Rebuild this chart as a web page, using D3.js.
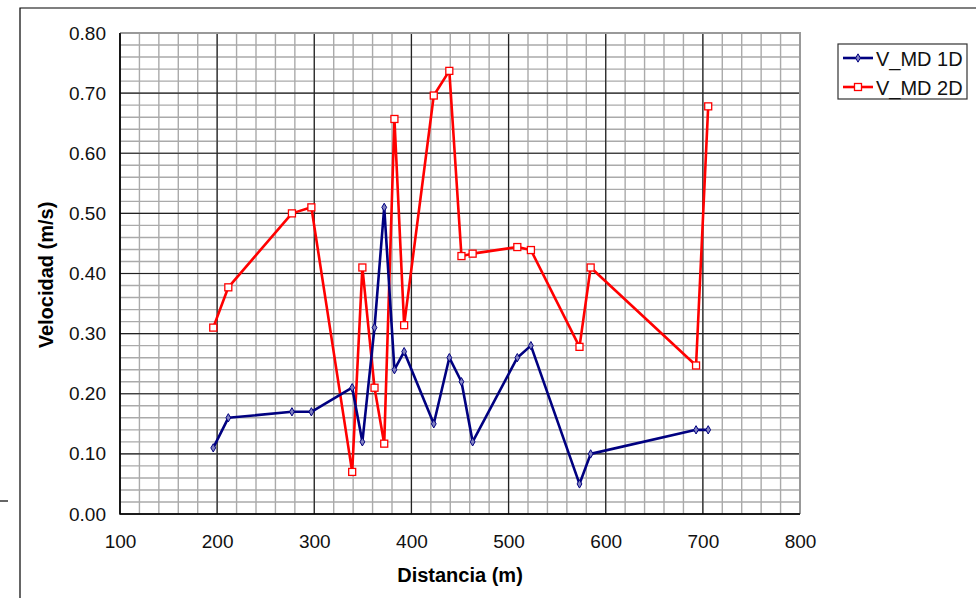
<!DOCTYPE html>
<html>
<head>
<meta charset="utf-8">
<script src="https://cdn.jsdelivr.net/npm/d3@7"></script>
<style>
  body { margin: 0; background: #fff; }
  svg { display: block; font-family: "Liberation Sans", Arial, sans-serif; }
</style>
</head>
<body>
<div class="graph"></div>
<script>
var distancia = [196, 211.5, 277, 297, 339, 349.5, 362, 372, 382.5, 392.5, 423, 439, 451.5, 463, 509, 523, 573, 584.5, 693, 705.5];
var vmd1d = [0.11, 0.16, 0.17, 0.17, 0.21, 0.12, 0.31, 0.51, 0.24, 0.27, 0.15, 0.26, 0.22, 0.12, 0.26, 0.28, 0.05, 0.10, 0.14, 0.14];
var vmd2d = [0.31, 0.377, 0.50, 0.51, 0.07, 0.41, 0.21, 0.117, 0.657, 0.314, 0.696, 0.737, 0.429, 0.433, 0.444, 0.439, 0.278, 0.41, 0.247, 0.678];
var xTicks = [100, 200, 300, 400, 500, 600, 700, 800];
var yTicks = [0, 0.1, 0.2, 0.3, 0.4, 0.5, 0.6, 0.7, 0.8];

var width = 976;
var height = 598;
var plot = {left: 120, top: 33, right: 800, bottom: 514};

var svg = d3.select(".graph").append("svg")
  .attr("width", width)
  .attr("height", height);

// outer frame of the original sheet
svg.append("path")
  .attr("d", "M20,598 L20,8 L980,8")
  .attr("fill", "none")
  .attr("stroke", "#000")
  .attr("stroke-width", 1.2);
svg.append("line")
  .attr("x1", 0).attr("x2", 8).attr("y1", 501).attr("y2", 501)
  .attr("stroke", "#000").attr("stroke-width", 1.2);

var x = d3.scaleLinear().domain([100, 800]).range([plot.left, plot.right]);
var y = d3.scaleLinear().domain([0, 0.8]).range([plot.bottom, plot.top]);

var grid = svg.append("g");

// minor grid
grid.selectAll(".vminor")
  .data(d3.range(100, 801, 20))
  .enter().append("line")
  .attr("x1", d => x(d)).attr("x2", d => x(d))
  .attr("y1", plot.top).attr("y2", plot.bottom)
  .attr("stroke", "#aaa").attr("stroke-width", 1.4);
grid.selectAll(".hminor")
  .data(d3.range(0, 41).map(i => i * 0.02))
  .enter().append("line")
  .attr("x1", plot.left).attr("x2", plot.right)
  .attr("y1", d => y(d)).attr("y2", d => y(d))
  .attr("stroke", "#aaa").attr("stroke-width", 1.4);

// major grid
grid.selectAll(".vmajor")
  .data(xTicks)
  .enter().append("line")
  .attr("x1", d => x(d)).attr("x2", d => x(d))
  .attr("y1", plot.top).attr("y2", plot.bottom)
  .attr("stroke", "#222").attr("stroke-width", 1.2);
grid.selectAll(".hmajor")
  .data(yTicks)
  .enter().append("line")
  .attr("x1", plot.left).attr("x2", plot.right)
  .attr("y1", d => y(d)).attr("y2", d => y(d))
  .attr("stroke", "#222").attr("stroke-width", 1.2);

// plot border: gray top/right, black left/bottom
svg.append("path")
  .attr("d", "M" + plot.left + "," + plot.top + " L" + plot.right + "," + plot.top + " L" + plot.right + "," + plot.bottom)
  .attr("fill", "none").attr("stroke", "#999").attr("stroke-width", 2);
svg.append("path")
  .attr("d", "M" + plot.left + "," + plot.top + " L" + plot.left + "," + plot.bottom + " L" + plot.right + "," + plot.bottom)
  .attr("fill", "none").attr("stroke", "#000").attr("stroke-width", 1.5);

// axes (labels only)
var xAxis = d3.axisBottom(x).tickValues(xTicks).tickSize(0).tickPadding(21).tickFormat(d3.format("d"));
var xAxisGroup = svg.append("g")
  .attr("transform", "translate(0," + plot.bottom + ")")
  .call(xAxis);
var yAxis = d3.axisLeft(y).tickValues(yTicks).tickSize(0).tickPadding(14).tickFormat(d3.format(".2f"));
var yAxisGroup = svg.append("g")
  .attr("transform", "translate(" + plot.left + ",0)")
  .call(yAxis);
svg.selectAll(".domain").remove();
svg.selectAll(".tick text")
  .attr("font-size", 19)
  .attr("font-family", "Liberation Sans, Arial, sans-serif")
  .attr("fill", "#111");

svg.append("text")
  .attr("x", 460).attr("y", 582)
  .attr("text-anchor", "middle")
  .attr("font-size", 20).attr("font-weight", "bold")
  .text("Distancia (m)");
svg.append("text")
  .attr("transform", "translate(53,275) rotate(-90)")
  .attr("text-anchor", "middle")
  .attr("font-size", 20).attr("font-weight", "bold")
  .text("Velocidad (m/s)");

// series
var line1 = d3.line().x((d, i) => x(distancia[i])).y(d => y(d));

svg.append("path")
  .datum(vmd2d)
  .attr("fill", "none")
  .attr("stroke", "#ff0000")
  .attr("stroke-width", 2.6)
  .attr("stroke-linejoin", "round")
  .attr("d", line1);
svg.append("path")
  .datum(vmd1d)
  .attr("fill", "none")
  .attr("stroke", "#000080")
  .attr("stroke-width", 2.6)
  .attr("stroke-linejoin", "round")
  .attr("d", line1);

svg.selectAll(".sq")
  .data(vmd2d)
  .enter().append("rect")
  .attr("x", (d, i) => x(distancia[i]) - 3.5)
  .attr("y", d => y(d) - 3.5)
  .attr("width", 7).attr("height", 7)
  .attr("fill", "#fff")
  .attr("stroke", "#ff0000")
  .attr("stroke-width", 1.3);

var diamond = d3.symbol().type(d3.symbolDiamond).size(20);
svg.selectAll(".dm")
  .data(vmd1d)
  .enter().append("path")
  .attr("d", diamond)
  .attr("transform", (d, i) => "translate(" + x(distancia[i]) + "," + y(d) + ")")
  .attr("fill", "#8080c0")
  .attr("stroke", "#000080")
  .attr("stroke-width", 1);

// legend
var legend = svg.append("g").attr("transform", "translate(838,44)");
legend.append("rect")
  .attr("width", 129).attr("height", 55)
  .attr("fill", "#fff").attr("stroke", "#333").attr("stroke-width", 1.2);

var legendItems = [
  {name: "V_MD 1D", color: "#000080", mark: "diamond"},
  {name: "V_MD 2D", color: "#ff0000", mark: "square"}
];
legendItems.forEach(function (item, i) {
  var ly = 14 + i * 29;
  legend.append("line")
    .attr("x1", 5).attr("x2", 35).attr("y1", ly).attr("y2", ly)
    .attr("stroke", item.color).attr("stroke-width", 2.6);
  if (item.mark == "square") {
    legend.append("rect")
      .attr("x", 16.5).attr("y", ly - 3.5).attr("width", 7).attr("height", 7)
      .attr("fill", "#fff").attr("stroke", item.color).attr("stroke-width", 1.3);
  } else {
    legend.append("path")
      .attr("d", diamond)
      .attr("transform", "translate(20," + ly + ")")
      .attr("fill", "#8080c0").attr("stroke", item.color);
  }
  legend.append("text")
    .attr("x", 38).attr("y", ly + 8)
    .attr("font-size", 20).attr("fill", "#111")
    .text(item.name);
});
</script>
</body>
</html>
